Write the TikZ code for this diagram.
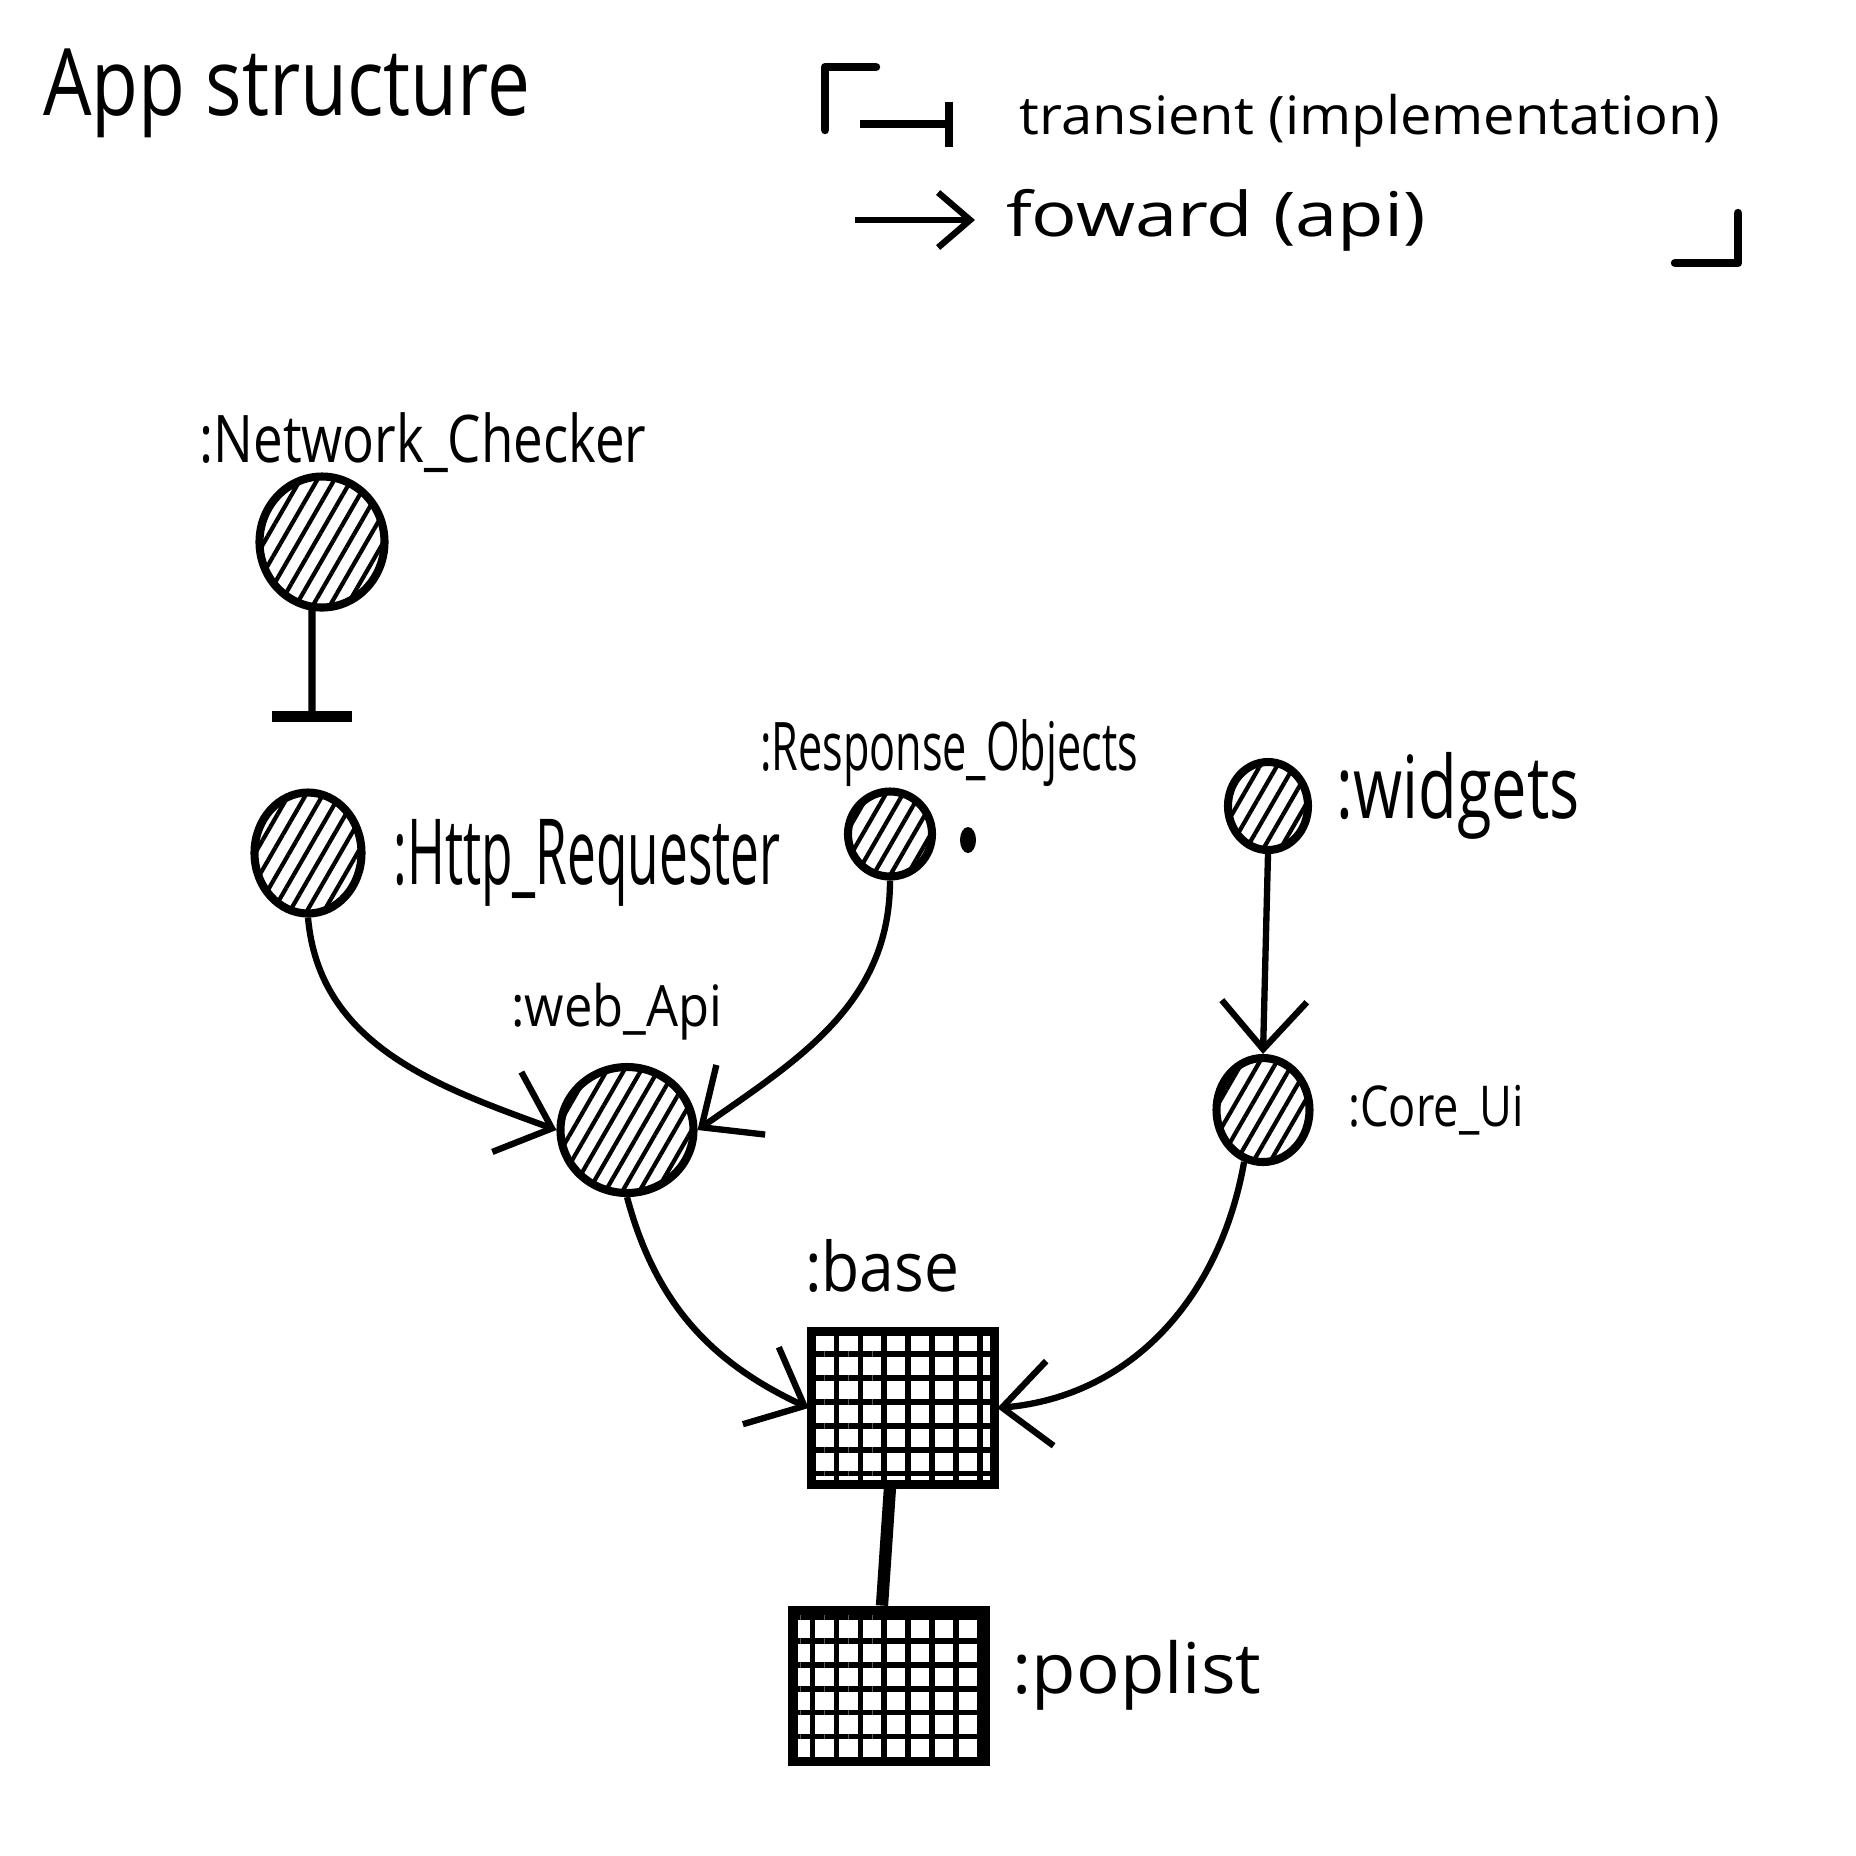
\documentclass[tikz,border=0pt]{standalone}
\usepackage{fontspec}
\setmainfont{Open Sans}
\usetikzlibrary{arrows.meta,patterns.meta,shapes.geometric}
\newcommand\fitwh[3]{\resizebox*{#1}{#2}{#3}}
\begin{document}
\begin{tikzpicture}[x=0.1mm,y=-0.1mm,
  obj/.style={ellipse, draw, line width=2.3pt, inner sep=0pt,
    pattern={Lines[angle=60,distance=4.2pt,line width=1.2pt]}},
  gridbox/.style={rectangle, draw, line width=2.8pt, inner sep=0pt,
    pattern={Hatch[angle=0,distance=6.8pt,line width=1.6pt]}},
  lbl/.style={inner sep=0pt, anchor=center},
  conn/.style={line width=1.8pt, -{Straight Barb[length=4.8mm,width=8.5mm]}},
  trans/.style={line width=2pt, -{Bar[width=8mm,line width=3pt]}},
  stroke/.style={line width=2.4pt, line cap=round, line join=round}]
\fill[white] (0,0) rectangle (1856,1856);
\useasboundingbox (0,0) rectangle (1856,1856);

% title
\node[lbl] (title) at (287,93) {\fitwh{48.7mm}{8.9mm}{App structure}};

% legend
\coordinate (ga) at (825,130);
\coordinate (gb) at (825,67);
\coordinate (gc) at (876,67);
\draw[stroke] (ga) -- (gb) -- (gc);
\coordinate (t1) at (860,124);
\coordinate (t2) at (953,124);
\draw[line width=2.2pt, -{Bar[width=4.5mm,line width=2.4pt]}] (t1) -- (t2);
\node[lbl] (tl) at (1370,121) {\fitwh{70mm}{5.3mm}{transient (implementation)}};
\coordinate (f1) at (855,220);
\coordinate (f2) at (975,220);
\draw[line width=1.8pt, -{Straight Barb[length=3.2mm,width=5.5mm]}] (f1) -- (f2);
\node[lbl] (fl) at (1216,220) {\fitwh{42mm}{6.2mm}{foward (api)}};
\coordinate (ha) at (1675,263);
\coordinate (hb) at (1738,263);
\coordinate (hc) at (1738,213);
\draw[stroke] (ha) -- (hb) -- (hc);

% objects
\node[obj, minimum width=12.5mm, minimum height=13.1mm] (nc) at (322,542) {};
\node[lbl] (ncl) at (423,443) {\fitwh{44.7mm}{6.0mm}{:Network\_Checker}};
\coordinate (ncend) at (312,722);
\draw[trans] ([xshift=-1mm]nc.south) -- (ncend);

\node[obj, minimum width=10.7mm, minimum height=12.1mm] (http) at (308,853) {};
\node[lbl] (httpl) at (587,863) {\fitwh{38.7mm}{8.7mm}{:Http\_Requester}};

\node[obj, minimum width=8.4mm, minimum height=8.5mm] (resp) at (890,834) {};
\node[lbl] (respl) at (949,753) {\fitwh{37.8mm}{6.7mm}{:Response\_Objects}};
\node[ellipse, fill, minimum width=1.6mm, minimum height=2.6mm, inner sep=0pt] (dot) at (968,840) {};

\node[obj, minimum width=8mm, minimum height=8.8mm] (wid) at (1268,806) {};
\node[lbl] (widl) at (1458,796) {\fitwh{24.3mm}{8.7mm}{:widgets}};

\node[obj, minimum width=13.3mm, minimum height=12.6mm] (web) at (627,1130) {};
\node[lbl] (webl) at (617,1012) {\fitwh{21.1mm}{5.7mm}{:web\_Api}};

\node[obj, minimum width=9.3mm, minimum height=10.4mm] (core) at (1263,1110) {};
\node[lbl] (corel) at (1436,1110) {\fitwh{17.5mm}{5.0mm}{:Core\_Ui}};

\node[gridbox, minimum width=18.3mm, minimum height=15.3mm] (base) at (903,1408) {};
\node[lbl] (basel) at (882,1266) {\fitwh{15.4mm}{5.3mm}{:base}};

\node[gridbox, minimum width=19.2mm, minimum height=15.1mm] (pop) at (889,1686) {};
\node[lbl] (popl) at (1137,1675) {\fitwh{24.9mm}{7.0mm}{:poplist}};

% connectors
\draw[conn] (http.south) to[out=-85,in=160] (web.west);
\draw[conn] (resp.south) to[out=-90,in=35] (web.east);
\draw[conn] (wid.south) -- (core.north);
\draw[conn] (web.south) to[out=-75,in=155] (base.west);
\draw[conn] (core.250) to[out=-100,in=5] (base.east);
\draw[line width=3.5pt] ([xshift=-1.3mm]base.south) -- ([xshift=-0.7mm]pop.north);
\end{tikzpicture}
\end{document}
